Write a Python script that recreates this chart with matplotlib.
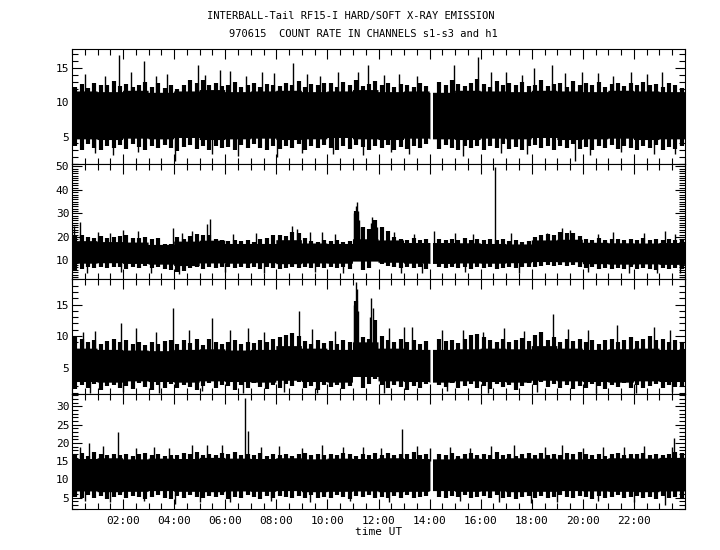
import numpy as np
import matplotlib
matplotlib.use('Agg')
import matplotlib.pyplot as plt
from matplotlib.ticker import MultipleLocator, FixedLocator, FuncFormatter

plt.rcParams['font.family'] = ['DejaVu Sans Mono']

# dense part of each band, hourly (upper / lower edge)
s1_core_hi = [11.6, 11.5, 11.7, 11.4, 11.6, 11.8, 11.5, 11.6, 11.7, 11.5, 11.6, 11.8,
              11.5, 11.6, 11.4, 11.7, 11.6, 11.5, 11.7, 11.6, 11.5, 11.7, 11.6, 11.5]
s1_core_lo = [4.6, 4.5, 4.7, 4.6, 4.8, 4.5, 4.6, 4.7, 4.5, 4.6, 4.8, 4.6,
              4.5, 4.7, 4.6, 4.5, 4.7, 4.6, 4.8, 4.5, 4.6, 4.7, 4.5, 4.6]
# 15-minute extremes of the count rate (tips of the fringe), 96 bins per day
s1_hi = [12.3, 12.7, 12.1, 12.9, 12.5, 12.6, 13.1, 12.4,
         12.7, 12.2, 12.6, 13.0, 12.3, 12.8, 12.1, 12.6,
         12.0, 12.5, 13.2, 12.8, 13.3, 12.6, 12.9, 12.4,
         12.5, 13.0, 12.3, 12.6, 12.9, 12.2, 12.7, 12.5,
         12.4, 12.8, 12.6, 13.1, 12.3, 12.7, 12.5, 12.9,
         12.8, 12.3, 13.0, 12.6, 13.2, 12.4, 12.7, 13.1,
         12.5, 12.9, 12.3, 12.7, 12.6, 12.2, 12.8, 12.4,
         12.1, 13.0, 12.6, 13.3, 12.7, 12.4, 12.9, 13.4,
         12.7, 12.3, 13.1, 12.6, 12.8, 12.5, 13.0, 12.4,
         12.6, 13.2, 12.4, 12.7, 12.9, 12.3, 13.1, 12.6,
         12.8, 12.5, 13.0, 12.3, 12.7, 12.9, 12.4, 12.8,
         12.5, 13.0, 12.6, 12.7, 12.3, 12.9, 12.5, 12.1]
s1_lo = [3.6, 3.1, 3.9, 3.4, 3.0, 3.7, 3.3, 3.8,
         3.2, 3.9, 3.5, 3.0, 3.6, 3.3, 3.8, 3.4,
         2.9, 3.5, 3.8, 3.2, 3.6, 3.0, 3.7, 3.4,
         3.5, 3.1, 3.8, 3.3, 3.9, 3.4, 3.0, 3.6,
         3.2, 3.7, 3.4, 3.9, 3.1, 3.6, 3.3, 3.8,
         3.4, 3.0, 3.7, 3.2, 3.8, 3.5, 3.1, 3.6,
         3.3, 3.8, 3.0, 3.5, 3.2, 3.7, 3.4, 3.9,
         3.6, 3.2, 3.8, 3.4, 3.0, 3.6, 3.3, 3.7,
         3.1, 3.7, 3.4, 3.9, 3.2, 3.5, 3.0, 3.6,
         3.8, 3.3, 3.6, 3.1, 3.7, 3.4, 3.9, 3.2,
         3.5, 3.0, 3.7, 3.3, 3.8, 3.2, 3.6, 3.4,
         3.1, 3.6, 3.3, 3.8, 3.0, 3.5, 3.2, 3.7]
# single samples sticking out of the band (time in hours, count rate)
s1_spike_t = [1.84, 2.80, 4.94, 5.80, 7.45, 8.67, 11.20, 11.60, 14.95, 15.90,
              16.40, 18.10, 18.80, 19.96, 20.60, 21.90,
              0.50, 1.30, 2.30, 3.30, 3.70, 5.20, 6.20, 6.80, 7.90, 9.20,
              9.70, 10.40, 12.20, 12.80, 13.50, 17.00, 17.60, 19.30, 21.20, 22.50, 23.10,
              4.04, 8.04, 19.70,
              0.90, 1.60, 2.60, 5.50, 6.50, 9.00, 10.20, 11.40, 12.50, 13.20,
              15.30, 16.80, 17.80, 20.30, 21.50, 22.80, 23.60]
s1_spike_v = [16.9, 16.0, 15.5, 14.8, 14.5, 15.8, 14.5, 15.5, 15.5, 16.6,
              14.5, 15.0, 15.5, 14.5, 14.3, 14.5,
              14.1, 13.8, 14.4, 13.9, 14.2, 14.0, 14.6, 13.9, 14.3, 14.1,
              13.8, 14.4, 14.0, 14.2, 13.9, 14.5, 14.0, 14.3, 13.8, 14.2, 14.4,
              1.5, 2.0, 1.5,
              2.6, 2.3, 2.7, 2.4, 2.2, 2.6, 2.5, 2.3, 2.7, 2.4,
              2.2, 2.6, 2.5, 2.3, 2.7, 2.4, 2.5]

s2_core_hi = [18.2, 17.8, 17.6, 16.6, 18.0, 18.4, 17.0, 17.0, 18.6, 17.2, 17.0, 19.0,
              18.5, 17.4, 17.4, 17.3, 17.0, 16.8, 18.5, 18.8, 17.5, 17.3, 17.2, 17.4]
s2_core_lo = [8.6, 8.8, 8.5, 8.2, 7.6, 8.7, 8.6, 8.8, 8.4, 8.7, 8.6, 9.5,
              9.0, 8.6, 8.5, 8.7, 8.6, 8.8, 9.3, 9.2, 8.4, 8.2, 8.3, 8.1]
s2_hi = [21.0, 20.6, 19.8, 19.5, 20.2, 19.6, 19.9, 20.3,
         21.0, 19.7, 19.4, 20.0, 19.2, 19.6, 17.0, 16.8,
         19.8, 18.9, 20.5, 21.2, 20.8, 21.0, 19.0, 18.6,
         18.4, 18.8, 18.2, 18.6, 18.0, 18.9, 19.5, 20.6,
         21.0, 20.5, 22.0, 21.6, 19.6, 18.4, 18.0, 18.5,
         18.2, 18.6, 18.0, 18.4, 31.0, 24.0, 23.5, 27.0,
         24.0, 22.5, 20.0, 19.2, 18.8, 19.4, 18.6, 19.0,
         19.2, 19.0, 18.6, 19.3, 18.8, 19.4, 18.7, 19.0,
         18.6, 19.2, 18.5, 18.9, 18.2, 18.6, 18.0, 18.4,
         19.8, 20.6, 21.4, 21.0, 22.0, 21.5, 21.8, 20.4,
         19.2, 18.8, 19.4, 18.7, 19.0, 19.3, 18.6, 19.1,
         18.8, 19.4, 18.7, 19.0, 18.5, 19.2, 18.8, 19.0]
s2_lo = [6.0, 6.5, 7.2, 6.8, 7.4, 6.6, 7.0, 7.3,
         6.4, 7.1, 6.8, 7.5, 6.9, 7.2, 6.2, 5.8,
         5.2, 5.6, 6.8, 7.0, 6.3, 7.4, 6.9, 7.2,
         7.0, 6.6, 7.3, 6.8, 7.1, 6.5, 7.0, 6.7,
         6.2, 6.8, 7.4, 6.9, 7.2, 6.6, 7.0, 6.8,
         7.1, 6.7, 7.3, 6.5, 11.0, 6.0, 6.8, 10.5,
         8.5, 7.6, 7.0, 6.6, 7.2, 6.8, 7.1, 6.5,
         6.8, 7.3, 6.6, 7.0, 6.9, 7.2, 6.5, 7.0,
         6.7, 7.1, 6.4, 6.9, 7.2, 6.6, 7.0, 7.4,
         7.2, 7.8, 8.0, 7.6, 8.2, 7.5, 7.9, 7.0,
         6.6, 7.0, 6.4, 6.9, 6.2, 6.8, 6.5, 7.1,
         6.3, 6.9, 6.5, 6.1, 6.7, 6.4, 6.8, 6.2]
s2_spike_t = [0.08, 0.30, 2.00, 3.96, 5.30, 5.40, 8.60, 8.80, 9.80, 11.05,
              11.10, 11.15, 11.20, 11.25, 11.30, 11.70, 11.75, 11.80, 11.85, 11.95,
              14.17, 16.55, 19.20, 19.50, 23.20,
              1.00, 1.50, 2.60, 4.30, 4.70, 6.30, 7.20, 9.30, 10.30, 12.60,
              13.40, 15.00, 15.70, 17.20, 18.60, 20.60, 21.20, 22.40, 23.60,
              0.60, 1.90, 3.10, 4.20, 6.00, 7.50, 9.50, 10.60, 12.90, 13.70,
              15.40, 17.50, 20.20, 21.80, 22.90, 23.80]
s2_spike_v = [24.5, 26.3, 23.0, 23.6, 25.5, 27.5, 24.5, 23.5, 22.0, 30.0,
              33.0, 34.8, 31.0, 27.0, 24.0, 26.0, 28.3, 27.0, 26.0, 24.0,
              22.4, 49.8, 23.6, 23.0, 22.4,
              22.0, 21.6, 22.4, 21.8, 22.6, 21.2, 21.5, 21.9, 21.3, 22.2,
              21.4, 21.7, 21.2, 21.5, 21.8, 21.4, 22.0, 21.6, 21.3,
              4.8, 5.0, 4.6, 4.2, 4.9, 4.7, 5.0, 4.5, 4.8, 4.6,
              4.9, 4.7, 5.1, 4.5, 4.8, 4.6]

s3_core_hi = [8.0, 7.8, 7.7, 7.6, 7.8, 7.9, 7.7, 7.8, 8.4, 8.0, 7.8, 9.0,
              8.0, 7.8, 7.8, 7.9, 8.0, 7.9, 8.4, 8.0, 7.8, 7.9, 8.0, 7.8]
s3_core_lo = [2.7, 2.6, 2.8, 2.7, 2.6, 2.8, 2.7, 2.6, 2.9, 2.7, 2.6, 3.5,
              2.8, 2.7, 2.6, 2.8, 2.7, 2.6, 2.9, 2.8, 2.7, 2.6, 2.8, 2.7]
s3_hi = [10.0, 9.6, 9.0, 9.4, 8.8, 9.2, 9.6, 9.0,
         9.3, 8.8, 9.1, 8.6, 9.0, 8.7, 9.2, 9.4,
         8.8, 9.3, 8.9, 9.5, 8.6, 9.6, 9.1, 8.8,
         9.0, 9.4, 8.7, 9.1, 8.9, 9.3, 9.0, 9.5,
         9.8, 10.2, 10.5, 10.0, 9.2, 8.8, 9.4, 8.9,
         9.2, 8.8, 9.3, 9.0, 15.5, 9.8, 9.6, 12.5,
         10.0, 9.4, 9.1, 9.5, 9.0, 9.3, 8.8, 9.2,
         9.0, 9.5, 9.2, 9.4, 8.9, 9.6, 10.2, 10.4,
         9.8, 9.3, 9.1, 9.5, 9.0, 9.4, 9.7, 9.2,
         10.2, 10.6, 9.4, 9.8, 9.1, 9.5, 9.2, 9.6,
         9.0, 9.4, 8.8, 9.3, 9.6, 9.1, 9.4, 9.8,
         9.2, 9.6, 10.0, 9.3, 9.5, 9.0, 9.4, 8.9]
s3_lo = [1.6, 2.2, 1.8, 2.4, 1.5, 2.0, 2.3, 1.7,
         2.1, 1.6, 2.5, 1.9, 1.4, 2.2, 1.8, 2.4,
         1.7, 2.3, 1.9, 1.5, 2.1, 2.6, 1.8, 2.2,
         2.0, 1.5, 2.3, 1.8, 2.5, 1.9, 1.6, 2.2,
         1.8, 2.4, 2.0, 2.7, 1.7, 2.1, 1.5, 2.3,
         1.9, 2.2, 1.6, 2.0, 5.0, 1.8, 2.4, 3.2,
         2.2, 1.7, 2.3, 1.9, 1.5, 2.1, 1.8, 2.4,
         1.6, 2.3, 1.9, 2.5, 1.7, 2.0, 2.4, 1.8,
         2.1, 1.6, 2.4, 1.9, 2.2, 1.5, 2.0, 2.6,
         2.3, 2.7, 1.9, 2.4, 1.8, 2.2, 1.6, 2.1,
         1.8, 2.4, 2.0, 1.6, 2.3, 1.9, 2.5, 1.7,
         2.2, 1.7, 2.1, 2.4, 1.8, 2.3, 1.9, 2.0]
s3_spike_t = [0.43, 1.90, 3.95, 5.50, 8.87, 11.05, 11.10, 11.15, 11.20, 11.65,
              11.70, 11.78, 11.85, 13.00, 13.30, 18.85, 21.35, 22.80,
              0.90, 2.50, 3.30, 4.60, 6.20, 6.90, 7.50, 9.40, 10.30, 12.40,
              14.50, 15.30, 16.10, 16.90, 17.70, 19.40, 20.20, 23.40,
              0.70, 2.00, 3.40, 5.10, 6.70, 8.30, 9.60, 12.20, 14.70, 16.30,
              18.20, 20.50, 22.10, 23.50]
s3_spike_v = [10.6, 12.0, 14.4, 12.9, 14.0, 15.0, 18.6, 17.5, 14.0, 13.0,
              16.0, 14.5, 12.5, 11.4, 11.4, 13.5, 11.8, 11.4,
              10.8, 11.2, 10.6, 11.0, 10.9, 11.3, 10.7, 11.1, 10.8, 11.2,
              10.9, 11.0, 10.7, 11.3, 10.8, 11.1, 10.9, 11.0,
              1.0, 1.1, 0.9, 1.2, 1.0, 1.1, 0.9, 1.0, 1.2, 1.0,
              1.1, 0.9, 1.0, 1.1]

h1_core_hi = [15.6, 15.8, 15.5, 15.7, 15.6, 15.9, 15.7, 15.6, 15.8, 15.5, 15.7, 15.6,
              15.8, 15.6, 15.5, 15.7, 15.6, 15.8, 15.7, 15.5, 15.6, 15.8, 15.7, 15.9]
h1_core_lo = [6.7, 6.5, 6.6, 6.8, 6.6, 6.5, 6.7, 6.6, 6.8, 6.5, 6.6, 6.7,
              6.5, 6.6, 6.8, 6.6, 6.7, 6.5, 6.6, 6.8, 6.7, 6.6, 6.5, 6.7]
h1_hi = [16.8, 17.2, 16.5, 17.4, 16.9, 16.6, 17.1, 16.7,
         17.0, 16.4, 16.9, 17.3, 16.6, 17.1, 16.5, 16.8,
         16.7, 17.2, 16.9, 17.5, 16.6, 17.0, 16.8, 17.3,
         16.9, 17.4, 16.6, 17.1, 16.8, 17.3, 16.5, 17.0,
         16.7, 17.1, 16.4, 16.9, 17.2, 16.6, 17.0, 16.8,
         17.1, 16.6, 17.3, 16.9, 16.5, 17.0, 16.7, 17.2,
         16.8, 17.3, 16.6, 17.0, 16.9, 17.4, 16.7, 17.1,
         16.6, 17.0, 16.8, 17.2, 16.5, 16.9, 17.3, 16.7,
         17.0, 16.6, 17.4, 16.8, 17.1, 16.5, 16.9, 17.2,
         16.8, 17.3, 16.7, 17.0, 16.6, 17.2, 16.9, 17.4,
         17.1, 16.7, 17.0, 16.5, 16.9, 17.3, 16.6, 17.0,
         16.9, 17.2, 16.6, 17.0, 16.8, 17.1, 17.5, 17.2]
h1_lo = [5.2, 4.8, 5.6, 5.0, 5.4, 4.7, 5.3, 5.7,
         4.9, 5.5, 5.1, 4.6, 5.3, 5.8, 5.0, 4.7,
         5.4, 5.0, 5.7, 5.2, 4.8, 5.5, 5.1, 5.6,
         4.7, 5.3, 4.9, 5.6, 5.1, 4.6, 5.4, 5.0,
         5.5, 5.1, 4.8, 5.4, 5.0, 5.7, 4.9, 5.3,
         5.0, 5.6, 5.2, 4.7, 5.4, 5.1, 5.7, 4.9,
         5.3, 4.8, 5.5, 5.0, 5.6, 4.9, 5.2, 5.4,
         4.6, 5.2, 4.9, 5.5, 5.1, 5.7, 4.8, 5.3,
         5.4, 5.0, 5.6, 4.9, 5.2, 4.7, 5.3, 5.5,
         5.0, 5.4, 4.8, 5.3, 5.7, 5.1, 4.9, 5.5,
         5.2, 4.7, 5.5, 5.0, 5.3, 5.6, 4.9, 5.1,
         5.4, 4.9, 5.2, 4.6, 5.5, 5.0, 5.3, 4.8]
h1_spike_t = [0.68, 1.79, 4.70, 5.87, 6.76, 6.91, 12.93, 14.00, 17.30, 23.50,
              23.58,
              0.30, 1.20, 2.50, 3.20, 3.80, 5.30, 7.40, 8.10, 9.00, 9.80,
              10.60, 11.40, 12.10, 13.50, 14.80, 15.60, 16.40, 18.50, 19.20, 20.00,
              20.80, 21.60, 22.40,
              4.03, 17.96, 23.20,
              0.50, 1.50, 2.80, 5.00, 6.20, 7.80, 9.30, 10.90, 12.40, 15.20,
              16.70, 19.00, 20.60, 22.00]
h1_spike_v = [20.1, 23.1, 19.5, 19.4, 32.4, 23.4, 23.9, 18.6, 19.5, 19.0,
              21.3,
              18.8, 19.2, 18.6, 19.0, 18.7, 19.3, 18.9, 19.1, 18.6, 19.4,
              18.8, 19.0, 18.7, 19.2, 18.9, 18.6, 19.1, 18.8, 19.3, 18.7,
              19.0, 18.9, 19.2,
              3.3, 3.6, 3.0,
              4.0, 3.8, 4.1, 3.7, 3.9, 4.2, 3.8, 4.0, 3.7, 4.1,
              3.9, 3.8, 4.0, 3.7]

# telemetry gap (hours UT)
gap = (14.04, 14.13)

ylims = [(1.0, 17.8), (2.1, 51.0), (0.8, 19.05), (1.9, 33.4)]
ymajor = [[5, 10, 15], [10, 20, 30, 40, 50], [5, 10, 15], [5, 10, 15, 20, 25, 30]]
hour_ticks = [2, 4, 6, 8, 10, 12, 14, 16, 18, 20, 22]


def in_gap(t, half=0.0):
    return (t + half >= gap[0]) & (t - half < gap[1])


def draw_panel(ax, core_hi, core_lo, hi, lo, sp_t, sp_v):
    core_hi = np.asarray(core_hi)
    core_lo = np.asarray(core_lo)
    hi = np.asarray(hi)
    lo = np.asarray(lo)

    # dense band
    t = np.arange(0, 24 * 60 + 1) / 60.0
    hr = np.minimum(t.astype(int), 23)
    ax.fill_between(t, core_lo[hr], core_hi[hr], where=~in_gap(t), step='post',
                    color='black', lw=0)

    # fringe: one tooth per 15-minute bin
    tc = np.arange(len(hi)) * 0.25 + 0.125
    keep = ~in_gap(tc, 0.06)
    hc = np.minimum(tc.astype(int), 23)
    ax.vlines(tc[keep], core_hi[hc][keep] - 0.2, hi[keep], color='black', lw=3.0)
    ax.vlines(tc[keep], lo[keep], core_lo[hc][keep] + 0.2, color='black', lw=3.0)

    # isolated spikes / dips
    for ts, vs in zip(sp_t, sp_v):
        h = min(int(ts), 23)
        if vs > core_hi[h]:
            ax.vlines(ts, core_hi[h] - 0.5, vs, color='black', lw=1.0)
        else:
            ax.vlines(ts, vs, core_lo[h] + 0.5, color='black', lw=1.0)


def main():
    fig = plt.figure(figsize=(7.2, 5.5), dpi=100)
    left, width = 72 / 720, 613 / 720
    h = 115 / 550
    bottom0 = 1 - 509 / 550

    series = [(s1_core_hi, s1_core_lo, s1_hi, s1_lo, s1_spike_t, s1_spike_v),
              (s2_core_hi, s2_core_lo, s2_hi, s2_lo, s2_spike_t, s2_spike_v),
              (s3_core_hi, s3_core_lo, s3_hi, s3_lo, s3_spike_t, s3_spike_v),
              (h1_core_hi, h1_core_lo, h1_hi, h1_lo, h1_spike_t, h1_spike_v)]

    for i, args in enumerate(series):
        ax = fig.add_axes([left, bottom0 + (3 - i) * h, width, h])
        draw_panel(ax, *args)
        ax.set_xlim(0, 24)
        ax.set_ylim(*ylims[i])
        ax.xaxis.set_major_locator(FixedLocator(hour_ticks))
        ax.xaxis.set_minor_locator(MultipleLocator(0.5))
        ax.yaxis.set_major_locator(FixedLocator(ymajor[i]))
        ax.yaxis.set_minor_locator(MultipleLocator(1))
        ax.tick_params(which='both', direction='in', top=True, right=True,
                       width=0.8, colors='black', labelsize=8)
        ax.tick_params(which='major', length=7.5)
        ax.tick_params(which='minor', length=4)
        ax.tick_params(axis='y', pad=2)
        ax.tick_params(axis='x', pad=5)
        for sp in ax.spines.values():
            sp.set_linewidth(0.8)
        if i < 3:
            ax.set_xticklabels([])
        else:
            ax.xaxis.set_major_formatter(FuncFormatter(lambda x, p: '%02d:00' % int(round(x))))
            ax.set_xlabel('time UT', fontsize=8, labelpad=1)

    fig.text(351 / 720, 1 - 15.5 / 550, 'INTERBALL-Tail RF15-I HARD/SOFT X-RAY EMISSION',
             ha='center', va='center', fontsize=7.5)
    fig.text(363 / 720, 1 - 34 / 550, '970615  COUNT RATE IN CHANNELS s1-s3 and h1',
             ha='center', va='center', fontsize=7.5)

    fig.savefig('out.png', dpi=100, facecolor='white')


if __name__ == '__main__':
    main()
